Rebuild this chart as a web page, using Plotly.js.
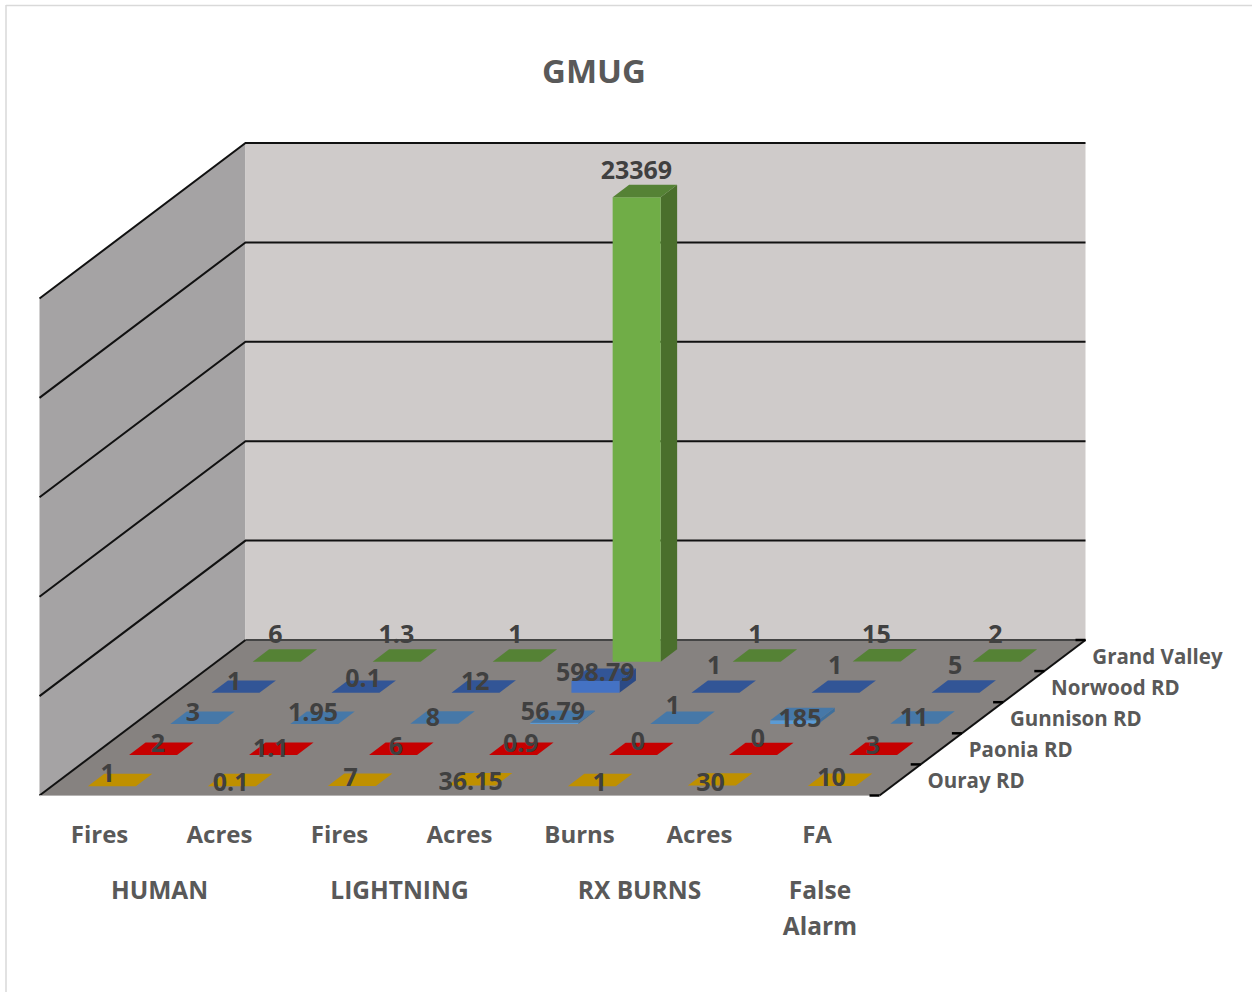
<!DOCTYPE html>
<html>
<head>
<meta charset="utf-8">
<script src="https://cdn.plot.ly/plotly-3.0.1.min.js"></script>
<style>html,body{margin:0;padding:0;background:#fff}#chart{width:1252px;height:992px}</style>
</head>
<body>
<div id="chart"></div>
<script>
// ---- data ----
const categories = ['Fires','Acres','Fires','Acres','Burns','Acres','FA'];
const groups = ['HUMAN','LIGHTNING','RX BURNS','False<br>Alarm'];
const seriesNames = ['Ouray RD','Paonia RD','Gunnison RD','Norwood RD','Grand Valley'];
const ourayValues    = [1, 0.1, 7, 36.15, 1, 30, 10];
const paoniaValues   = [2, 1.1, 6, 0.9, 0, 0, 3];
const gunnisonValues = [3, 1.95, 8, 56.79, 1, 185, 11];
const norwoodValues  = [1, 0.1, 12, 598.79, 1, 1, 5];
const grandValues    = [6, 1.3, 1, 23369, 1, 15, 2];
const title = 'GMUG';
const gridValues = [0, 5000, 10000, 15000, 20000, 25000];

// ---- styling ----
const seriesValues = [ourayValues, paoniaValues, gunnisonValues, norwoodValues, grandValues];
const faceColors = [
  {front:'#FFC000', top:'#BF9000', side:'#997300'},
  {front:'#FF0000', top:'#C60000', side:'#990000'},
  {front:'#5B9BD5', top:'#4678A8', side:'#3F6F9B'},
  {front:'#4472C4', top:'#325596', side:'#2B4A85'},
  {front:'#70AD47', top:'#558235', side:'#4A6F2C'}
];
// nudges of each data label from its bar, [dx, dy] in px
const labelNudge = [
  [[-12,-7],[-9,2],[-9,-3],[-9,2],[0,2],[-9,2],[-8,-3]],
  [[-3,-6],[-10,-1],[-5,-3],[0,-6],[-3,-8],[-3,-11],[-8,-4]],
  [[-9,-6],[-9,-6],[-9,-1],[-9,-6],[-9,-13],[-2,4],[-8,-1]],
  [[-9,-6],[0,-9],[-8,-6],[-8,-3],[-9,-22],[-8,-22],[-8,-22]],
  [[-9,-22],[-8,-22],[-9,-22],[-8,-21],[-9,-22],[-8,-22],[-9,-22]]
];
const FONT = '"Open Sans", sans-serif';

// oblique projection: category c, series depth s, value v -> plot coordinates
const origin = {x:39.5, y:795.5}, catW = 120, depthX = 41.2, depthY = 31.1, pxPerUnit = 497/25000;
const P = (c,s,v) => [origin.x + c*catW + s*depthX, origin.y - s*depthY - v*pxPerUnit];
const nC = categories.length, nS = seriesNames.length, vMax = gridValues[gridValues.length-1];

const traces = [];
function poly(pts, color) {
  traces.push({type:'scatter', mode:'lines', x:[...pts.map(p=>p[0]), pts[0][0]], y:[...pts.map(p=>p[1]), pts[0][1]],
    fill:'toself', fillcolor:color, line:{width:0, color:color}, hoverinfo:'skip', showlegend:false});
}
function line(pts, color, width) {
  traces.push({type:'scatter', mode:'lines', x:pts.map(p=>p[0]), y:pts.map(p=>p[1]),
    line:{color:color, width:width}, hoverinfo:'skip', showlegend:false});
}
const textDrop = 3;
function text(x, y, str, size, color, pos) {
  traces.push({type:'scatter', mode:'text', x:[x], y:[y+textDrop], text:[str], textposition:pos||'middle center',
    textfont:{family:FONT, size:size, color:color, weight:700}, hoverinfo:'skip', showlegend:false, cliponaxis:false});
}

// walls and floor
poly([P(0,0,0),P(0,nS,0),P(0,nS,vMax),P(0,0,vMax)], '#A5A3A4');
poly([P(0,nS,0),P(nC,nS,0),P(nC,nS,vMax),P(0,nS,vMax)], '#CFCBCA');
poly([P(0,0,0),P(nC,0,0),P(nC,nS,0),P(0,nS,0)], '#868280');

// gridlines
gridValues.forEach(v => {
  if (v > 0) line([P(0,0,v),P(0,nS,v),P(nC,nS,v)], '#111111', 2);
});
line([P(0,nS,0),P(nC,nS,0)], '#444444', 2);
line([P(0,0,0),P(0,nS,0)], '#111111', 2);
line([P(nC,0,0),P(nC,nS,0)], '#111111', 2);
line([P(0,0,0),P(nC,0,0)], '#B5B3B2', 1);
for (let s=0; s<=nS; s++) {
  const a = P(nC,s,0);
  line([[a[0]-10,a[1]],[a[0],a[1]]], '#000000', 2.5);
}

// bars, back row first
const bw0 = 0.3, bw1 = 0.7;
for (let s=nS-1; s>=0; s--) {
  for (let c=0; c<nC; c++) {
    const v = seriesValues[s][c], col = faceColors[s];
    const c0=c+bw0, c1=c+bw1, s0=s+bw0, s1=s+bw1;
    if (v > 0) {
      poly([P(c1,s0,0),P(c1,s1,0),P(c1,s1,v),P(c1,s0,v)], col.side);
      poly([P(c0,s0,0),P(c1,s0,0),P(c1,s0,v),P(c0,s0,v)], col.front);
    }
    poly([P(c0,s0,v),P(c1,s0,v),P(c1,s1,v),P(c0,s1,v)], col.top);
  }
}

// data labels
for (let s=nS-1; s>=0; s--) {
  for (let c=0; c<nC; c++) {
    const v = seriesValues[s][c], a = P(c+.5,s+.5,v), n = labelNudge[s][c];
    text(a[0]+n[0]-0.5, a[1]+n[1], String(v), 25, '#404040');
  }
}

// axis text
categories.forEach((t,c) => text(origin.x + (c+.5)*catW + (c===6?-2.5:0), 833.5, t, 24, '#595959'));
groups.forEach((t,g) => {
  const mid = g < 3 ? origin.x + (2*g+1)*catW : origin.x + 6.5*catW + 0.5;
  t.split('<br>').forEach((part,i) => text(mid, 890 + i*36, part, 24.5, '#595959'));
});
seriesNames.forEach((t,s) => {
  const a = P(nC,s,0);
  text(a[0]+48, a[1]-15.5, t, 20.5, '#595959', 'middle right');
});
text(594, 72, title, 33, '#595959');

const layout = {
  width:1252, height:992, autosize:false,
  margin:{l:0,r:0,t:0,b:0,pad:0},
  paper_bgcolor:'#ffffff', plot_bgcolor:'#ffffff', showlegend:false,
  xaxis:{range:[0,1252], visible:false, fixedrange:true},
  yaxis:{range:[992,0], visible:false, fixedrange:true},
  shapes:[
    {type:'line', xref:'x', yref:'y', x0:6, y0:5.5, x1:1252, y1:5.5, line:{color:'#D9D9D9', width:1.5}, layer:'below'},
    {type:'line', xref:'x', yref:'y', x0:6, y0:5, x1:6, y1:992, line:{color:'#D9D9D9', width:1.5}, layer:'below'}
  ]
};
Plotly.newPlot('chart', traces, layout, {displayModeBar:false, staticPlot:true});
</script>
</body>
</html>
